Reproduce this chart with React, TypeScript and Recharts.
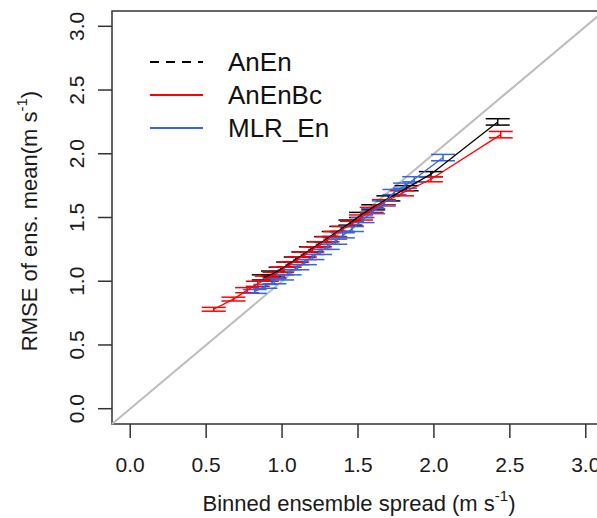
import React from "react";
import {
  ScatterChart,
  Scatter,
  XAxis,
  YAxis,
  ErrorBar,
  ReferenceLine,
  ReferenceArea,
  Legend,
} from "recharts";

const FONT = "'Liberation Sans', Arial, sans-serif";

const xTicks = [0, 0.5, 1, 1.5, 2, 2.5, 3];
const yTicks = [0, 0.5, 1, 1.5, 2, 2.5, 3];

// AnEn (black)
const anEnX = [0.88, 0.94, 0.99, 1.04, 1.09, 1.14, 1.19, 1.24, 1.29, 1.34, 1.39, 1.45, 1.52, 1.6, 1.7, 1.82, 1.98, 2.42];
const anEnY = [1.03, 1.06, 1.09, 1.13, 1.17, 1.21, 1.25, 1.29, 1.33, 1.37, 1.41, 1.46, 1.52, 1.58, 1.65, 1.73, 1.84, 2.25];
const anEnErr = [0.02, 0.02, 0.02, 0.02, 0.02, 0.02, 0.02, 0.02, 0.02, 0.02, 0.02, 0.02, 0.02, 0.02, 0.02, 0.02, 0.02, 0.025];

// AnEnBc (red)
const anEnBcX = [0.55, 0.68, 0.77, 0.84, 0.9, 0.95, 1.0, 1.05, 1.1, 1.15, 1.2, 1.25, 1.3, 1.35, 1.4, 1.46, 1.52, 1.59, 1.67, 1.79, 1.98, 2.44];
const anEnBcY = [0.78, 0.86, 0.93, 0.98, 1.02, 1.05, 1.09, 1.13, 1.17, 1.21, 1.25, 1.29, 1.33, 1.37, 1.41, 1.45, 1.5, 1.56, 1.62, 1.69, 1.8, 2.15];
const anEnBcErr = [0.015, 0.015, 0.02, 0.02, 0.02, 0.02, 0.02, 0.02, 0.02, 0.02, 0.02, 0.02, 0.02, 0.02, 0.02, 0.02, 0.02, 0.02, 0.02, 0.02, 0.02, 0.025];

// MLR_En (blue)
const mlrX = [0.82, 0.89, 0.95, 1.0, 1.05, 1.1, 1.15, 1.2, 1.25, 1.3, 1.35, 1.4, 1.46, 1.53, 1.6, 1.67, 1.74, 1.81, 1.87, 2.06];
const mlrY = [0.92, 0.96, 1.0, 1.03, 1.07, 1.11, 1.15, 1.19, 1.23, 1.27, 1.31, 1.36, 1.41, 1.48, 1.55, 1.61, 1.7, 1.75, 1.8, 1.97];
const mlrErr = [0.015, 0.015, 0.02, 0.02, 0.02, 0.02, 0.02, 0.02, 0.02, 0.02, 0.02, 0.02, 0.02, 0.02, 0.02, 0.02, 0.02, 0.02, 0.02, 0.025];

const legendItems = [
  { name: "AnEn", color: "#000000", dash: "9 7" },
  { name: "AnEnBc", color: "#ff0000", dash: undefined },
  { name: "MLR_En", color: "#3366dd", dash: undefined },
];

const toPoints = (xs: number[], ys: number[], errs: number[]) =>
  xs.map((x, i) => ({ x, y: ys[i], err: errs[i] }));

const anEnData = toPoints(anEnX, anEnY, anEnErr);
const anEnBcData = toPoints(anEnBcX, anEnBcY, anEnBcErr);
const mlrData = toPoints(mlrX, mlrY, mlrErr);

const XTick = (props: any) => {
  const { x, y, payload } = props;
  return (
    <text x={x} y={y + 32} textAnchor="middle" fontSize={21} fill="#1a1a1a" fontFamily={FONT}>
      {payload.value.toFixed(1)}
    </text>
  );
};

const YTick = (props: any) => {
  const { y, payload } = props;
  const bx = 84;
  return (
    <text
      x={bx}
      y={y}
      transform={`rotate(-90, ${bx}, ${y})`}
      textAnchor="middle"
      fontSize={21}
      fill="#1a1a1a"
      fontFamily={FONT}
    >
      {payload.value.toFixed(1)}
    </text>
  );
};

const LegendBox = () => (
  <svg width={420} height={160}>
    {legendItems.map((it, i) => {
      const cy = 62 + i * 33;
      return (
        <g key={it.name}>
          <line x1={150} x2={203} y1={cy} y2={cy} stroke={it.color} strokeWidth={2.2} strokeDasharray={it.dash} />
          <text x={228} y={cy + 9} fontSize={26} fill="#111" fontFamily={FONT}>
            {it.name}
          </text>
        </g>
      );
    })}
  </svg>
);

const noShape = () => <g />;

export default function App() {
  return (
    <div style={{ position: "absolute", left: 0, top: 0, width: 597, height: 518, overflow: "hidden", background: "#fff" }}>
      <ScatterChart width={606} height={518} margin={{ top: 11, right: 2, left: 0, bottom: 0 }}>
        <XAxis
          type="number"
          dataKey="x"
          domain={[-0.12, 3.12]}
          ticks={xTicks}
          allowDataOverflow
          height={94}
          tickSize={14}
          axisLine={false}
          tickLine={{ stroke: "#333", strokeWidth: 1.5 }}
          tick={<XTick />}
          label={{
            content: () => (
              <text x={359} y={511} textAnchor="middle" fontSize={22} fill="#1a1a1a" fontFamily={FONT}>
                Binned ensemble spread (m s
                <tspan fontSize={15} dy={-10}>-1</tspan>
                <tspan dy={10}>)</tspan>
              </text>
            ),
          }}
        />
        <YAxis
          type="number"
          dataKey="y"
          domain={[-0.12, 3.12]}
          ticks={yTicks}
          allowDataOverflow
          width={112}
          tickSize={14}
          axisLine={false}
          tickLine={{ stroke: "#333", strokeWidth: 1.5 }}
          tick={<YTick />}
          label={{
            content: () => (
              <text
                x={37}
                y={221}
                transform="rotate(-90, 37, 221)"
                textAnchor="middle"
                fontSize={22}
                fill="#1a1a1a"
                fontFamily={FONT}
              >
                RMSE of ens. mean(m s
                <tspan fontSize={15} dy={-10}>-1</tspan>
                <tspan dy={10}>)</tspan>
              </text>
            ),
          }}
        />
        <ReferenceArea
          x1={-0.12}
          x2={3.12}
          y1={-0.12}
          y2={3.12}
          fill="none"
          fillOpacity={0}
          stroke="#333"
          strokeWidth={1.5}
          ifOverflow="visible"
        />
        <ReferenceLine
          segment={[
            { x: -0.12, y: -0.12 },
            { x: 3.12, y: 3.12 },
          ]}
          stroke="#bdbdbd"
          strokeWidth={2}
          ifOverflow="visible"
        />
        <Scatter
          name="AnEn"
          data={anEnData}
          line={{ stroke: "#000", strokeWidth: 1.3 }}
          lineType="joint"
          shape={noShape}
          isAnimationActive={false}
        >
          <ErrorBar dataKey="err" direction="y" width={12} stroke="#000" strokeWidth={1.5} />
        </Scatter>
        <Scatter
          name="AnEnBc"
          data={anEnBcData}
          line={{ stroke: "#ff0000", strokeWidth: 1.3 }}
          lineType="joint"
          shape={noShape}
          isAnimationActive={false}
        >
          <ErrorBar dataKey="err" direction="y" width={12} stroke="#ff0000" strokeWidth={1.5} />
        </Scatter>
        <Scatter
          name="MLR_En"
          data={mlrData}
          line={{ stroke: "#3366dd", strokeWidth: 1.3 }}
          lineType="joint"
          shape={noShape}
          isAnimationActive={false}
        >
          <ErrorBar dataKey="err" direction="y" width={12} stroke="#3366dd" strokeWidth={1.5} />
        </Scatter>
        <Legend
          layout="horizontal"
          verticalAlign="middle"
          wrapperStyle={{ left: 0, top: 0, width: 420, height: 160 }}
          content={() => <LegendBox />}
        />
      </ScatterChart>
    </div>
  );
}
